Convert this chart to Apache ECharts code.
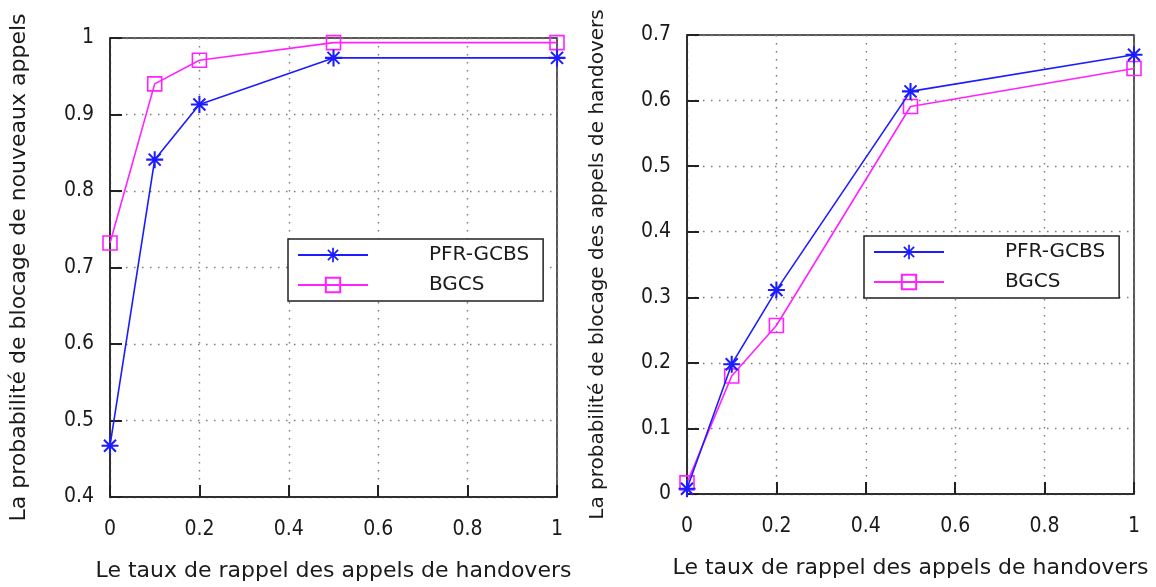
<!DOCTYPE html>
<html>
<head>
<meta charset="utf-8">
<script src="https://cdn.jsdelivr.net/npm/echarts@6/dist/echarts.min.js"></script>
<style>
html,body{margin:0;padding:0;background:#fff;}
#chart{width:1156px;height:587px;}
</style>
</head>
<body>
<div id="chart"></div>
<script>
// ---- data ----
const xValues = [0, 0.1, 0.2, 0.5, 1];
const seriesNames = ['PFR-GCBS', 'BGCS'];
// left panel: new-call blocking probability
const leftPFR = [0.467, 0.841, 0.913, 0.974, 0.974];
const leftBGCS = [0.732, 0.940, 0.971, 0.994, 0.994];
// right panel: handover blocking probability
const rightPFR = [0.008, 0.198, 0.311, 0.614, 0.670];
const rightBGCS = [0.017, 0.180, 0.257, 0.591, 0.649];
const xTitle = 'Le taux de rappel des appels de handovers';
const leftYTitle = 'La probabilité de blocage de nouveaux appels';
const rightYTitle = 'La probabilité de blocage des appels de handovers';

const BLUE = '#1c1cff';
const MAGENTA = '#ff22ff';
const TXT = '#1a1a1a';
const ASTERISK = 'path://M-10,-1.2L10,-1.2L10,1.2L-10,1.2ZM-1.2,-10L1.2,-10L1.2,10L-1.2,10ZM-6.22,-7.92L7.92,6.22L6.22,7.92L-7.92,-6.22ZM-7.92,6.22L6.22,-7.92L7.92,-6.22L-6.22,7.92Z';

const pairs = ys => xValues.map((x, i) => [x, ys[i]]);

function gridLine() { return { show: true, lineStyle: { color: '#7a7a7a', width: 1.4, type: [1.5, 6.5] } }; }

function xAxis(gridIndex) {
  return {
    type: 'value', gridIndex, position: 'bottom', min: 0, max: 1, interval: 0.2,
    name: xTitle, nameLocation: 'middle', nameGap: 63,
    nameTextStyle: { fontFamily: 'DejaVu Sans', fontSize: 22, color: TXT },
    axisLine: { show: true, lineStyle: { color: '#222', width: 1.5 } },
    axisTick: { show: false },
    axisLabel: { margin: 22, fontFamily: 'DejaVu Sans Condensed', fontSize: 21, color: TXT },
    splitLine: gridLine()
  };
}
function yAxis(gridIndex, min, max, title, size, gap) {
  return {
    type: 'value', gridIndex, position: 'left', min, max, interval: 0.1,
    name: title, nameLocation: 'middle', nameGap: gap, nameRotate: 90,
    nameTextStyle: { fontFamily: 'DejaVu Sans', fontSize: size, color: TXT },
    axisLine: { show: true, lineStyle: { color: '#222', width: 1.5 } },
    axisTick: { show: false },
    axisLabel: { margin: 16, fontFamily: 'DejaVu Sans Condensed', fontSize: 21, color: TXT,
      formatter: v => String(Math.round(v * 10) / 10) },
    splitLine: gridLine()
  };
}
// tick-only overlay axes (inward major ticks, gnuplot style)
function tickAxis(gridIndex, position, min, max, interval) {
  return {
    type: 'value', gridIndex, position, offset: 0, min, max, interval,
    axisLine: { show: false },
    axisTick: { show: true, inside: true, length: 12, lineStyle: { color: '#222', width: 2 } },
    axisLabel: { show: false },
    splitLine: { show: false }
  };
}
function lineSeries(name, data, idx, isPFR) {
  return {
    name, type: 'line', xAxisIndex: idx, yAxisIndex: idx, data,
    symbol: isPFR ? ASTERISK : 'rect',
    symbolSize: isPFR ? 17 : 14,
    showAllSymbol: true,
    clip: false,
    lineStyle: { color: isPFR ? BLUE : MAGENTA, width: 1.6 },
    itemStyle: isPFR ? { color: BLUE, borderWidth: 0 }
                     : { color: 'rgba(255,255,255,0)', borderColor: MAGENTA, borderWidth: 1.6 },
    emphasis: { disabled: true },
    z: isPFR ? 3 : 2
  };
}
function legend(left, top) {
  return {
    orient: 'vertical', left, top,
    data: seriesNames,
    itemWidth: 70, itemHeight: 18, itemGap: 10,
    padding: [6, 14, 6, 9],
    backgroundColor: '#fff', borderColor: '#222', borderWidth: 1.5,
    textStyle: { fontFamily: 'DejaVu Sans', fontSize: 20, color: TXT, padding: [0, 0, 0, 56] },
    selectedMode: false
  };
}

const chart = echarts.init(document.getElementById('chart'), null, { renderer: 'canvas' });
chart.setOption({
  backgroundColor: '#fff',
  animation: false,
  grid: [
    { left: 110, top: 38, width: 447, height: 459, show: true, borderColor: '#222', borderWidth: 1.5 },
    { left: 687, top: 35, width: 447, height: 459, show: true, borderColor: '#222', borderWidth: 1.5 }
  ],
  xAxis: [xAxis(0), xAxis(1), tickAxis(0, 'bottom', 0, 1, 0.2), tickAxis(1, 'bottom', 0, 1, 0.2)],
  yAxis: [
    yAxis(0, 0.4, 1, leftYTitle, 22, 80),
    yAxis(1, 0, 0.7, rightYTitle, 20, 79),
    tickAxis(0, 'left', 0.4, 1, 0.1),
    tickAxis(1, 'left', 0, 0.7, 0.1)
  ],
  legend: [legend(288, 239), legend(864, 236)],
  series: [
    lineSeries(seriesNames[0], pairs(leftPFR), 0, true),
    lineSeries(seriesNames[1], pairs(leftBGCS), 0, false),
    lineSeries(seriesNames[0], pairs(rightPFR), 1, true),
    lineSeries(seriesNames[1], pairs(rightBGCS), 1, false)
  ]
});
</script>
</body>
</html>
